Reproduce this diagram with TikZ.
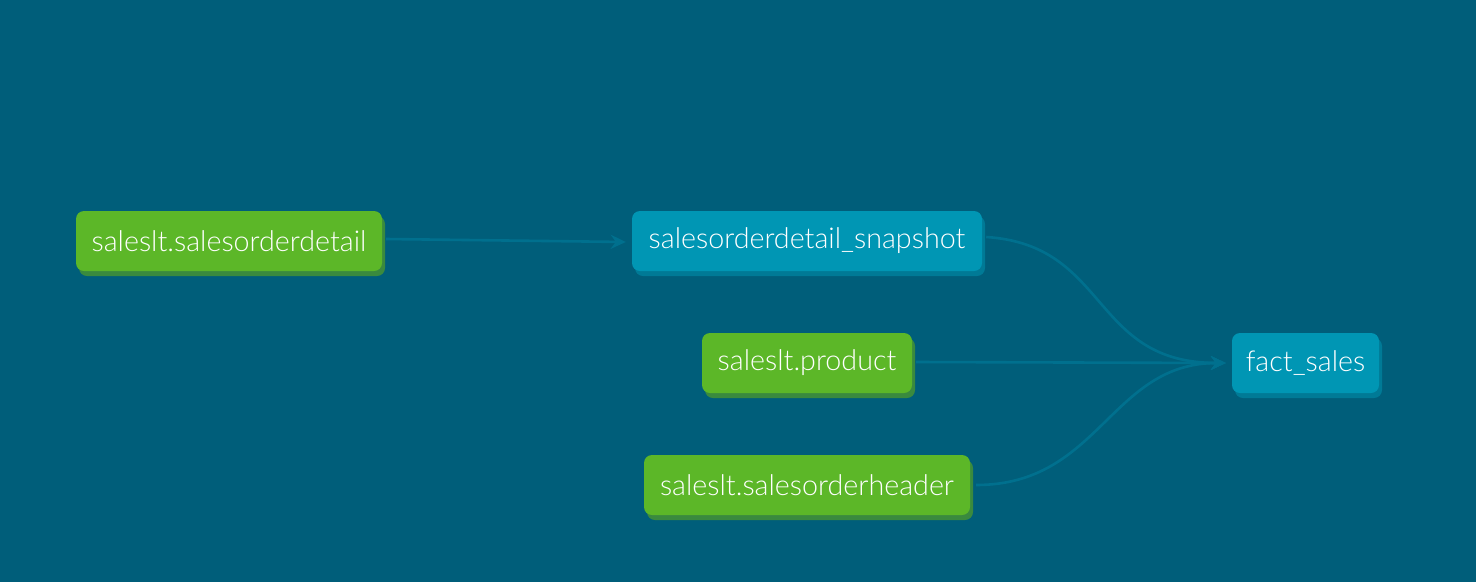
\documentclass[tikz,border=0pt]{standalone}
\usepackage{fontspec}
\setmainfont{Lato}[UprightFont=* Light]
\usetikzlibrary{arrows.meta,shadows}
\definecolor{bg}{RGB}{0,94,122}
\definecolor{srcgreen}{RGB}{92,183,40}
\definecolor{srcshadow}{RGB}{58,138,62}
\definecolor{mdlblue}{RGB}{0,150,180}
\definecolor{mdlshadow}{RGB}{0,122,150}
\definecolor{edgecol}{RGB}{0,112,142}
\tikzset{
  box/.style={rounded corners=8pt, inner sep=0pt, text=white,
    font=\fontsize{28.7}{33}\selectfont, anchor=center},
  srcbox/.style={box, fill=srcgreen, drop shadow={shadow xshift=3pt, shadow yshift=-5pt, fill=srcshadow, opacity=1}},
  mdlbox/.style={box, fill=mdlblue, drop shadow={shadow xshift=3pt, shadow yshift=-5pt, fill=mdlshadow, opacity=1}},
  conn/.style={draw=edgecol, line width=2.6pt, -{Stealth[length=15pt,width=14pt,inset=5pt]}},
}
\begin{document}
\begin{tikzpicture}[x=1pt,y=-1pt]
\fill[bg] (0,0) rectangle (1476,582);
\useasboundingbox (0,0) rectangle (1476,582);
\node[srcbox, minimum width=306pt, minimum height=60pt] (sod) at (229,241) {saleslt.salesorderdetail};
\node[mdlbox, minimum width=350pt, minimum height=60pt] (snap) at (807,241) {salesorderdetail\_snapshot};
\node[srcbox, minimum width=210pt, minimum height=60pt] (prod) at (807,363) {saleslt.product};
\node[srcbox, minimum width=326pt, minimum height=60pt] (soh) at (807,485) {saleslt.salesorderheader};
\node[mdlbox, minimum width=147pt, minimum height=60pt] (fact) at (1305.5,363) {fact\_sales};
\coordinate (factin) at ([xshift=-6pt]fact.west);
\draw[conn] ([xshift=4pt,yshift=2pt]sod.east) -- ([xshift=-6pt,yshift=-1pt]snap.west);
\draw[conn] ([xshift=4pt,yshift=4pt]snap.east) .. controls (1110,245) and (1090,363) .. (factin);
\draw[conn] ([xshift=4pt,yshift=1pt]prod.east) -- (factin);
\draw[conn] ([xshift=6pt]soh.east) .. controls (1100,485) and (1110,363) .. (factin);
\end{tikzpicture}
\end{document}
